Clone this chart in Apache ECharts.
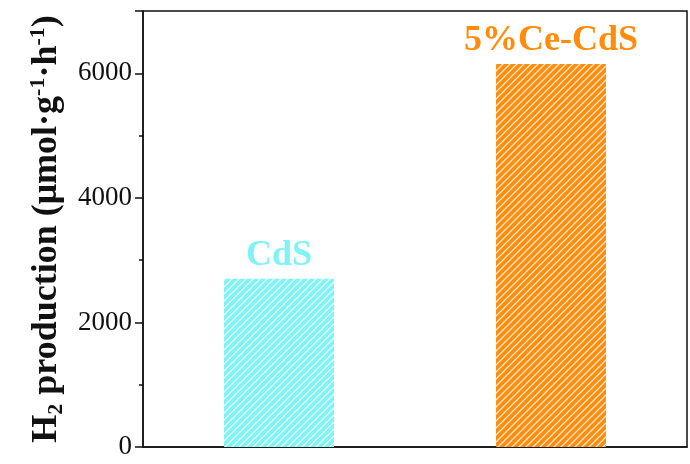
<!DOCTYPE html>
<html>
<head>
<meta charset="utf-8">
<script src="https://cdn.jsdelivr.net/npm/echarts@6/dist/echarts.min.js"></script>
<style>
  html, body { margin: 0; padding: 0; background: #fff; }
  #chart { width: 690px; height: 464px; }
</style>
</head>
<body>
<div id="chart"></div>
<script>
// Photocatalytic H2 evolution rates
const samples = ['CdS', '5%Ce-CdS'];
const h2Rates = [2700, 6150];
const barColors = ['#80f4f4', '#ff8c0a'];

// diagonal white hatching on a solid fill
function hatch(color) {
  const s = 7;
  const c = document.createElement('canvas');
  c.width = s; c.height = s;
  const g = c.getContext('2d');
  g.fillStyle = color;
  g.fillRect(0, 0, s, s);
  g.strokeStyle = 'rgba(255,255,255,0.8)';
  g.lineWidth = 1.3;
  g.beginPath();
  g.moveTo(-1, s + 1); g.lineTo(s + 1, -1);
  g.moveTo(-1, 1); g.lineTo(1, -1);
  g.moveTo(s - 1, s + 1); g.lineTo(s + 1, s - 1);
  g.stroke();
  return { image: c, repeat: 'repeat' };
}

const serif = '"Liberation Serif", "Times New Roman", serif';
const chart = echarts.init(document.getElementById('chart'), null, { renderer: 'canvas' });

chart.setOption({
  backgroundColor: '#fff',
  animation: false,
  grid: {
    left: 143, right: 3, top: 11, bottom: 17,
    show: true, borderColor: '#111', borderWidth: 1.5, backgroundColor: 'transparent'
  },
  xAxis: {
    type: 'category',
    data: samples,
    axisLine: { lineStyle: { color: '#111', width: 1.5 } },
    axisTick: { show: false },
    axisLabel: { show: false }
  },
  yAxis: {
    type: 'value',
    min: 0, max: 7000, interval: 2000,
    splitLine: { show: false },
    axisLine: { show: true, lineStyle: { color: '#111', width: 1.5 } },
    axisTick: { show: true, inside: false, length: 8, lineStyle: { color: '#111', width: 1.5 } },
    minorTick: { show: true, splitNumber: 2, length: 4, lineStyle: { color: '#111', width: 1.5 } },
    axisLabel: {
      margin: 11, color: '#111', fontFamily: serif, fontSize: 27,
      formatter: v => (v % 2000 === 0 ? String(v) : '')
    },
    name: '{b|H}{sub|2}{b| production (μmol·g}{sup|-1}{b|·h}{sup|-1}{b|)}',
    nameLocation: 'middle',
    nameGap: 74,
    nameTextStyle: {
      rich: {
        b: { fontFamily: serif, fontWeight: 'bold', fontSize: 36, color: '#111', lineHeight: 40, verticalAlign: 'middle' },
        sub: { fontFamily: serif, fontWeight: 'bold', fontSize: 22, color: '#111', lineHeight: 22, verticalAlign: 'bottom' },
        sup: { fontFamily: serif, fontWeight: 'bold', fontSize: 22, color: '#111', lineHeight: 22, verticalAlign: 'top' }
      }
    }
  },
  series: [{
    type: 'bar',
    barWidth: 110,
    data: h2Rates.map((v, i) => ({
      value: v,
      itemStyle: { color: hatch(barColors[i]) },
      label: { color: barColors[i] }
    })),
    label: {
      show: true,
      position: 'top',
      distance: 5,
      formatter: p => p.name,
      fontFamily: serif,
      fontWeight: 'bold',
      fontSize: 36
    }
  }]
});
</script>
</body>
</html>
